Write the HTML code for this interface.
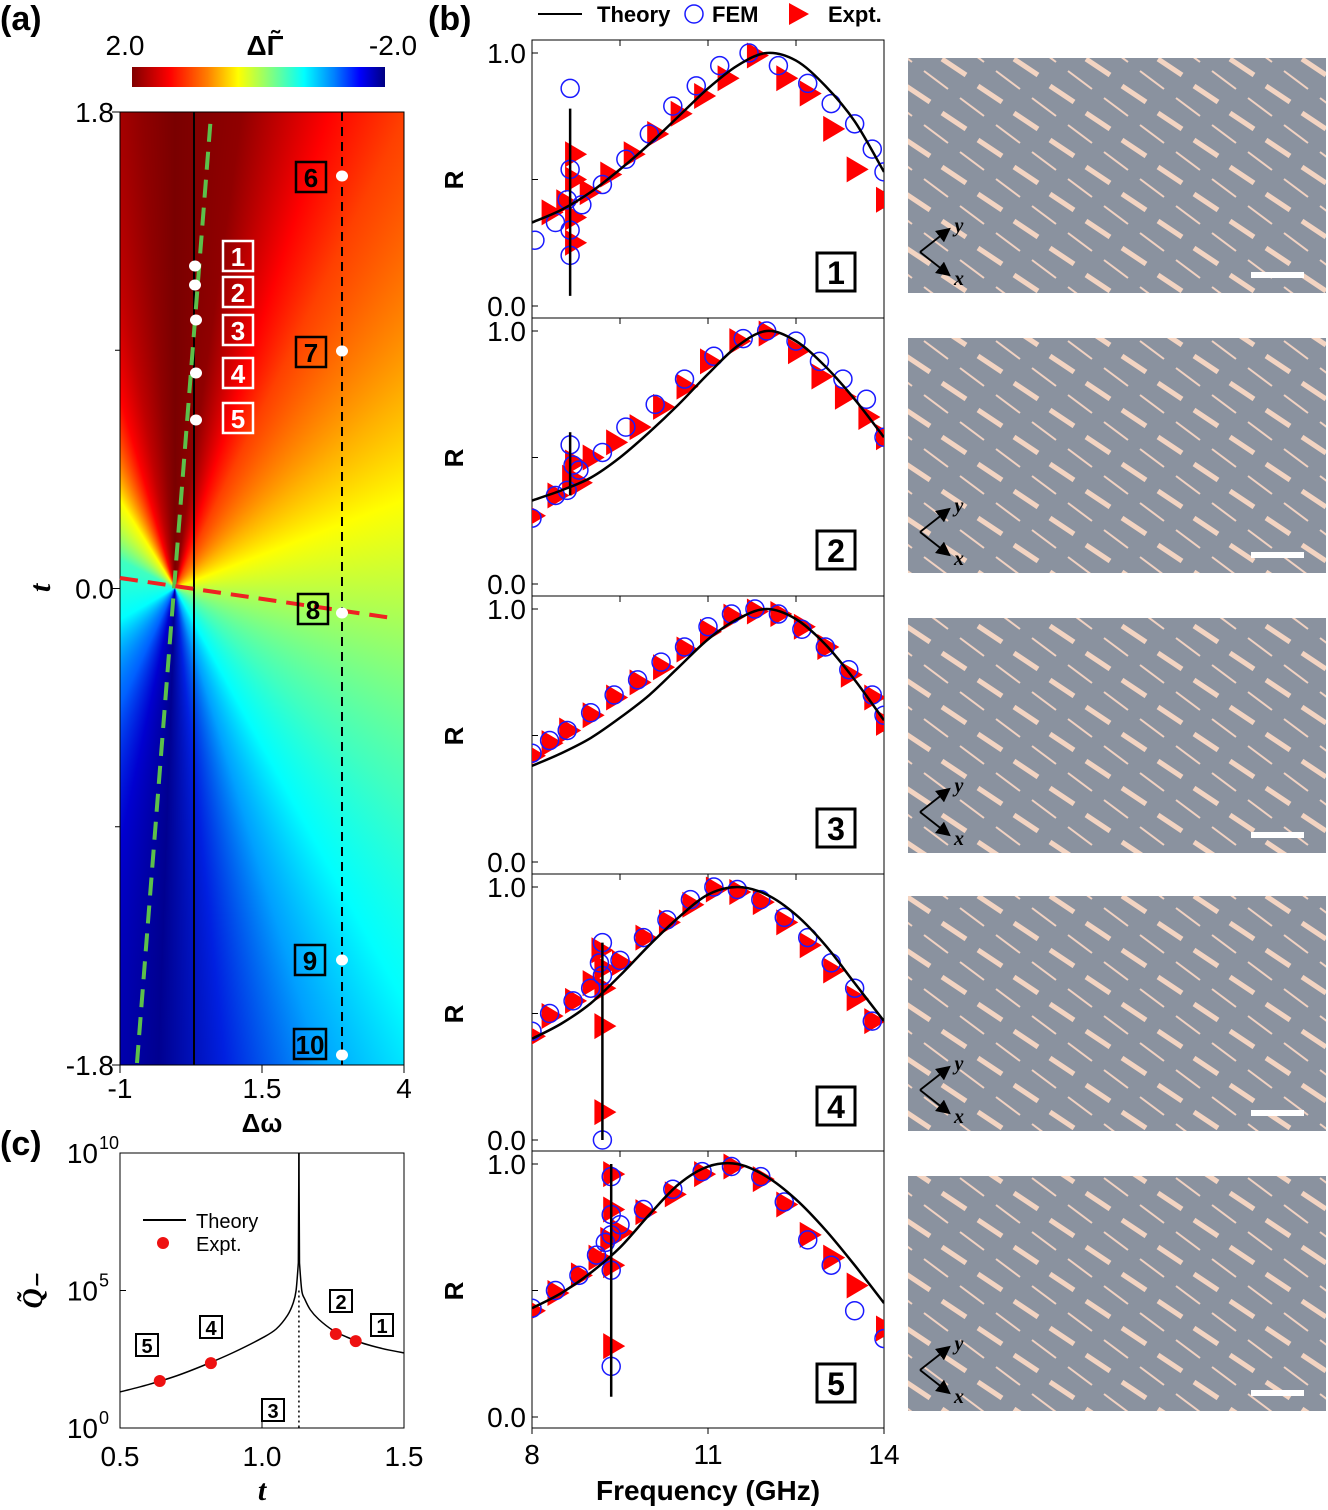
<!DOCTYPE html>
<html><head><meta charset="utf-8">
<style>
html,body{margin:0;padding:0;background:#fff;}
#wrap{position:relative;width:1328px;height:1510px;overflow:hidden;font-family:"Liberation Sans",sans-serif;}
#heat{position:absolute;left:120px;top:112px;width:284px;height:953px;
background:conic-gradient(from 0deg at 55px 476px,#7a0000 0deg,#900000 8deg,#ff0000 18deg,#ff4000 26deg,#ff7000 36deg,#ffb000 50deg,#ffff00 69deg,#c0ff40 90deg,#40ffc0 133deg,#00ffff 151deg,#00a0ff 163deg,#0020e0 174deg,#000090 182deg,#0000d0 192deg,#0060ff 205deg,#00ffff 240deg,#40ffc0 297deg,#ffff00 328deg,#ff0000 344deg,#c00000 350deg,#900000 356deg,#7a0000 360deg);}
#cbar{position:absolute;left:132px;top:67px;width:253px;height:20px;
background:linear-gradient(to right,#800000,#ff0000 15%,#ff8000 30%,#ffff00 42%,#80ff80 55%,#00ffff 68%,#0080ff 80%,#0000ff 90%,#000080);}
svg{position:absolute;left:0;top:0;}
</style></head><body>
<div id="wrap">
<div id="heat"></div>
<div id="cbar"></div>
<svg id="s" width="1328" height="1510">
<defs>
<pattern id="bars" width="72" height="54" patternUnits="userSpaceOnUse">
<line x1="6" y1="5" x2="30" y2="21" stroke="#f3d4c2" stroke-width="5"/>
<line x1="42" y1="32" x2="66" y2="48" stroke="#f3d4c2" stroke-width="5"/>
<line x1="-12" y1="17" x2="12" y2="35" stroke="#f1d2c2" stroke-width="2"/>
<line x1="60" y1="17" x2="84" y2="35" stroke="#f1d2c2" stroke-width="2"/>
<line x1="24" y1="44" x2="48" y2="62" stroke="#f1d2c2" stroke-width="2"/>
<line x1="24" y1="-10" x2="48" y2="8" stroke="#f1d2c2" stroke-width="2"/>
</pattern>
<marker id="ah" markerWidth="8" markerHeight="8" refX="6" refY="4" orient="auto"><path d="M0,0 L8,4 L0,8 z" fill="#000"/></marker>
</defs>
<g id="g"></g>
</svg>
</div>
<script>
// ---------- data ----------
const tickLabelsA_y=["1.8","0.0","-1.8"];
const tickLabelsA_x=["-1","1.5","4"];
const freqGrid=[8,8.5,9,9.5,10,10.5,11,11.5,12,12.5,13,13.5,14];
const theory1=[.33,.38,.45,.54,.64,.75,.86,.95,1.0,.97,.87,.73,.53];
const theory2=[.33,.37,.42,.5,.6,.71,.83,.94,1.0,.96,.86,.73,.58];
const theory3=[.38,.43,.49,.57,.66,.77,.88,.96,1.0,.96,.86,.72,.56];
const theory4=[.4,.46,.54,.65,.77,.88,.97,1.0,.97,.89,.77,.62,.47];
const theory5=[.43,.49,.57,.67,.8,.92,.99,1.0,.95,.86,.74,.6,.45];
const featF=[8.65,8.65,null,9.2,9.35];
const featLo=[.04,.35,null,0,.08];
const featHi=[.78,.6,null,.78,1.0];
const fem1x=[8.05,8.4,8.6,8.65,8.65,8.65,8.65,8.85,9.2,9.6,10.0,10.4,10.8,11.2,11.7,12.2,12.7,13.1,13.5,13.8,14.0];
const fem1y=[.26,.33,.42,.54,.86,.3,.2,.4,.48,.58,.68,.79,.87,.95,1.0,.95,.88,.8,.72,.62,.53];
const exp1x=[8.3,8.55,8.7,8.7,8.7,8.7,8.95,9.3,9.7,10.1,10.5,10.9,11.3,11.8,12.3,12.7,13.1,13.5,14.0];
const exp1y=[.37,.41,.6,.5,.35,.25,.45,.52,.6,.68,.76,.83,.9,.99,.9,.84,.7,.54,.42];
const fem2x=[8.0,8.4,8.6,8.65,8.7,8.8,9.2,9.6,10.1,10.6,11.1,11.6,12.0,12.5,12.9,13.3,13.7,14.0];
const fem2y=[.26,.35,.37,.55,.47,.45,.52,.62,.71,.81,.9,.97,1.0,.96,.88,.81,.73,.58];
const exp2x=[8.0,8.4,8.65,8.7,8.8,9.0,9.4,9.8,10.2,10.6,11.0,11.5,12.0,12.5,12.9,13.3,13.7,14.0];
const exp2y=[.27,.35,.42,.48,.4,.5,.56,.62,.7,.78,.88,.96,.99,.92,.82,.74,.66,.58];
const fem3x=[8.0,8.3,8.6,9.0,9.4,9.8,10.2,10.6,11.0,11.4,11.8,12.2,12.6,13.0,13.4,13.8,14.0];
const fem3y=[.43,.48,.52,.59,.66,.72,.79,.85,.93,.98,1.0,.98,.92,.85,.76,.66,.58];
const exp3x=[8.0,8.3,8.6,9.0,9.4,9.8,10.2,10.6,11.0,11.4,11.8,12.2,12.6,13.0,13.4,13.8,14.0];
const exp3y=[.42,.47,.52,.58,.65,.71,.77,.84,.91,.97,.99,.98,.93,.85,.74,.65,.55];
const fem4x=[8.0,8.3,8.7,9.0,9.15,9.2,9.2,9.2,9.5,9.9,10.3,10.7,11.1,11.5,11.9,12.3,12.7,13.1,13.5,13.8];
const fem4y=[.43,.5,.55,.6,.7,.78,.65,0,.71,.8,.87,.95,1.0,.99,.95,.88,.8,.7,.6,.47];
const exp4x=[8.0,8.3,8.7,9.0,9.15,9.2,9.2,9.2,9.2,9.5,9.9,10.3,10.7,11.1,11.5,11.9,12.3,12.7,13.1,13.5,13.8];
const exp4y=[.41,.49,.55,.62,.75,.68,.6,.45,.11,.7,.8,.86,.93,.99,.98,.94,.86,.77,.67,.56,.47];
const fem5x=[8.0,8.4,8.8,9.1,9.25,9.35,9.35,9.35,9.35,9.35,9.5,9.9,10.4,10.9,11.4,11.9,12.3,12.7,13.1,13.5,14.0];
const fem5y=[.43,.5,.56,.64,.69,.95,.8,.72,.58,.2,.76,.82,.9,.97,.99,.95,.85,.7,.6,.42,.31];
const exp5x=[8.0,8.4,8.8,9.1,9.3,9.35,9.35,9.35,9.35,9.5,9.9,10.4,10.9,11.4,11.9,12.3,12.7,13.1,13.5,14.0];
const exp5y=[.42,.49,.56,.63,.7,.96,.82,.6,.28,.73,.81,.88,.96,.99,.94,.84,.72,.63,.52,.35];
const yTickLabelsB=["1.0","0.0"];
const xTickLabelsB=["8","11","14"];
const qLeftT=[0.5,0.6,0.7,0.8,0.9,1.0,1.05,1.09,1.11,1.12,1.128];
const qLeftLog=[1.31,1.58,1.9,2.3,2.75,3.27,3.6,4.1,4.55,5.0,6.0];
const qRightT=[1.132,1.14,1.15,1.17,1.2,1.25,1.3,1.35,1.4,1.45,1.5];
const qRightLog=[6.0,5.0,4.7,4.3,3.95,3.55,3.3,3.1,2.95,2.83,2.73];
const dotT=[0.64,0.82,1.26,1.33];
const dotLog=[1.71,2.36,3.42,3.16];
const cTickX=["0.5","1.0","1.5"];

// ---------- helpers ----------
const NS="http://www.w3.org/2000/svg";
const G=document.getElementById('g');
function el(tag,attrs,parent){const e=document.createElementNS(NS,tag);for(const k in attrs)e.setAttribute(k,attrs[k]);(parent||G).appendChild(e);return e;}
function txt(x,y,s,size,anchor,extra){const t=el('text',Object.assign({x:x,y:y,'font-size':size,'text-anchor':anchor||'middle','font-family':'Liberation Sans, sans-serif'},extra||{}));t.textContent=s;return t;}
function spline(pts){let d='M'+pts[0][0]+','+pts[0][1];for(let i=0;i<pts.length-1;i++){const p0=pts[i-1]||pts[i],p1=pts[i],p2=pts[i+1],p3=pts[i+2]||p2;const c1=[p1[0]+(p2[0]-p0[0])/6,p1[1]+(p2[1]-p0[1])/6],c2=[p2[0]-(p3[0]-p1[0])/6,p2[1]-(p3[1]-p1[1])/6];d+=' C'+c1[0]+','+c1[1]+' '+c2[0]+','+c2[1]+' '+p2[0]+','+p2[1];}return d;}

// ---------- panel labels ----------
let t;
t=txt(0,30,'(a)',34,'start',{'font-weight':'bold'});
t=txt(428,30,'(b)',34,'start',{'font-weight':'bold'});
t=txt(0,1155,'(c)',34,'start',{'font-weight':'bold'});

// ---------- panel a ----------
const AX0=120,AX1=404,AY0=112,AY1=1065;
const ax=v=>AX0+(v+1)/5*(AX1-AX0);
const ay=v=>AY0+(1.8-v)/3.6*(AY1-AY0);
t=txt(125,55,'2.0',28);
t=txt(393,55,'-2.0',28);
t=txt(265,55,'ΔΓ̃',28,'middle',{'font-weight':'bold'});
let r=el('rect',{x:AX0,y:AY0,width:AX1-AX0,height:AY1-AY0,fill:'none',stroke:'#000','stroke-width':1});

[1.8,0,-1.8].forEach((v,i)=>{el('line',{x1:AX0-8,y1:ay(v),x2:AX0,y2:ay(v),stroke:'#000'});
 const l=txt(AX0-6,ay(v)+10,tickLabelsA_y[i],28,'end');});
[0.9,-0.9].forEach(v=>el('line',{x1:AX0-5,y1:ay(v),x2:AX0,y2:ay(v),stroke:'#000'}));
[-1,1.5,4].forEach((v,i)=>{el('line',{x1:ax(v),y1:AY1,x2:ax(v),y2:AY1+8,stroke:'#000'});
 const l=txt(ax(v),AY1+33,tickLabelsA_x[i],28);});
t=txt(262,1132,'Δω',26,'middle',{'font-weight':'bold'});
t=txt(0,0,'t',30,'middle',{'font-weight':'bold','font-style':'italic','font-family':'Liberation Serif, serif',transform:'translate(50,588) rotate(-90)'});
let ln=el('line',{x1:194,y1:AY0,x2:194,y2:AY1,stroke:'#000','stroke-width':2});
ln=el('line',{x1:342,y1:AY0,x2:342,y2:AY1,stroke:'#000','stroke-width':2,'stroke-dasharray':'9,6'});
ln=el('line',{x1:137,y1:1063,x2:211,y2:115,stroke:'#5cc04a','stroke-width':4,'stroke-dasharray':'18,10'});
ln=el('line',{x1:120,y1:578,x2:392,y2:618,stroke:'#ee2222','stroke-width':4,'stroke-dasharray':'18,10'});
[[195,266],[195,285],[196,320],[196,373],[196,420],[342,176],[342,351],[342,613],[342,960],[342,1055]].forEach(p=>{const c=el('ellipse',{cx:p[0],cy:p[1],rx:6,ry:5.5,fill:'#fff'});});
function box(x,y,n,col,w){const b=el('rect',{x:x-15,y:y-15,width:w||30,height:30,fill:'none',stroke:col,'stroke-width':2.5});
 const l=txt(x-15+(w||30)/2,y+10,n,26,'middle',{'font-weight':'bold',fill:col});}
[[238,256,'1'],[238,292,'2'],[238,330,'3'],[238,373,'4'],[238,418,'5']].forEach(a=>box(a[0],a[1],a[2],'#fff'));
[[311,177,'6'],[311,352,'7'],[313,609,'8'],[310,960,'9']].forEach(a=>box(a[0],a[1],a[2],'#000'));
box(309,1044,'10','#000',32);

// ---------- panel b ----------
const BX0=532,BX1=884,tops=[40,318,596,874,1151];
const bx=f=>BX0+(f-8)/6*(BX1-BX0);
const theories=[theory1,theory2,theory3,theory4,theory5];
const femX=[fem1x,fem2x,fem3x,fem4x,fem5x],femY=[fem1y,fem2y,fem3y,fem4y,fem5y];
const expX=[exp1x,exp2x,exp3x,exp4x,exp5x],expY=[exp1y,exp2y,exp3y,exp4y,exp5y];
ln=el('line',{x1:538,y1:14,x2:582,y2:14,stroke:'#000','stroke-width':2});
t=txt(597,22,'Theory',22,'start',{'font-weight':'bold'});
let c=el('circle',{cx:694,cy:14,r:9,fill:'none',stroke:'#1a1aff','stroke-width':1.5});
t=txt(712,22,'FEM',22,'start',{'font-weight':'bold'});
let p=el('path',{d:'M789,3 L809,14 L789,25 z',fill:'#f00'});
t=txt(828,22,'Expt.',22,'start',{'font-weight':'bold'});

tops.forEach((top,k)=>{
 const by=v=>top+13+(1-v)*253;
 const fr=el('rect',{x:BX0,y:top,width:BX1-BX0,height:(k==4?1428:tops[k+1])-top,fill:'none',stroke:'#000','stroke-width':1});
 
 [1,0.5,0].forEach(v=>el('line',{x1:BX0,y1:by(v),x2:BX0+6,y2:by(v),stroke:'#000'}));
 [9.5,11,12.5].forEach(f=>{el('line',{x1:bx(f),y1:top,x2:bx(f),y2:top+6,stroke:'#000'});});
 [1,0].forEach((v,i)=>{const l=txt(BX0-6,by(v)+10,yTickLabelsB[i],28,'end');});
 const R=txt(0,0,'R',26,'middle',{'font-weight':'bold',transform:'translate(463,'+(top+140)+') rotate(-90)'});
 const cg=el('g',{'clip-path':'url(#clipb'+k+')'});
 const cp=el('clipPath',{id:'clipb'+k});el('rect',{x:BX0,y:top,width:BX1-BX0,height:280},cp);
 expX[k].forEach((f,i)=>{const x=bx(f),y=by(expY[k][i]);const m=el('path',{d:`M${x-8},${y-13} L${x+14},${y} L${x-8},${y+13} z`,fill:'#ff0000'},cg);
  });
 femX[k].forEach((f,i)=>{const m=el('circle',{cx:bx(f),cy:by(femY[k][i]),r:9,fill:'none',stroke:'#1a1aff','stroke-width':1.5},cg);
  });
 const pts=freqGrid.map((f,i)=>[bx(f),by(theories[k][i])]);
 const th=el('path',{d:spline(pts),fill:'none',stroke:'#000','stroke-width':2.5},cg);
 if(featF[k]!==null){const v=el('line',{x1:bx(featF[k]),y1:by(featLo[k]),x2:bx(featF[k]),y2:by(featHi[k]),stroke:'#000','stroke-width':2.5});
  }
 const bb=el('rect',{x:817,y:top+213,width:38,height:38,fill:'#fff',stroke:'#000','stroke-width':3});
 const nl=txt(836,top+244,String(k+1),32,'middle',{'font-weight':'bold'});
});
[8,11,14].forEach((f,i)=>{el('line',{x1:bx(f),y1:1428,x2:bx(f),y2:1434,stroke:'#000'});
 const l=txt(bx(f),1464,xTickLabelsB[i],28);});
t=txt(708,1500,'Frequency (GHz)',28,'middle',{'font-weight':'bold'});

// ---------- photos ----------
[58,338,618,896,1176].forEach((y,i)=>{
 const ph=el('rect',{x:908,y:y,width:418,height:235,fill:'#8a929f'});
 el('rect',{x:908,y:y,width:418,height:235,fill:'url(#bars)'});
 el('line',{x1:920,y1:y+194,x2:948,y2:y+172,stroke:'#000','stroke-width':1.8,'marker-end':'url(#ah)'});
 el('line',{x1:920,y1:y+194,x2:948,y2:y+216,stroke:'#000','stroke-width':1.8,'marker-end':'url(#ah)'});
 const yl=txt(959,y+174,'y',20,'middle',{'font-weight':'bold','font-style':'italic','font-family':'Liberation Serif, serif'});
 const xl=txt(959,y+227,'x',20,'middle',{'font-weight':'bold','font-style':'italic','font-family':'Liberation Serif, serif'});
 const sb=el('rect',{x:1251,y:y+214,width:53,height:6,fill:'#fff'});
});

// ---------- panel c ----------
const CX0=120,CX1=404,CY0=1153,CY1=1428;
const cx=v=>CX0+(v-0.5)*(CX1-CX0);
const cy=v=>CY1-v/10*(CY1-CY0);
r=el('rect',{x:CX0,y:CY0,width:CX1-CX0,height:CY1-CY0,fill:'none',stroke:'#000'});
[[0,'0'],[5,'5'],[10,'10']].forEach(a=>{el('line',{x1:CX0,y1:cy(a[0]),x2:CX0+6,y2:cy(a[0]),stroke:'#000'});
 const l=txt(CX0-22,cy(a[0])+10,'10',28,'end');
 const e=txt(CX0-21,cy(a[0])-4,a[1],18,'start');});
[0.5,1.0,1.5].forEach((v,i)=>{el('line',{x1:cx(v),y1:CY1,x2:cx(v),y2:CY1-6,stroke:'#000'});
 const l=txt(cx(v),1466,cTickX[i],28);});
t=txt(262,1500,'t',30,'middle',{'font-weight':'bold','font-style':'italic','font-family':'Liberation Serif, serif'});
t=txt(0,0,'Q̃₋',28,'middle',{'font-weight':'bold','font-style':'italic','font-family':'Liberation Serif, serif',transform:'translate(42,1291) rotate(-90)'});
let cv=el('path',{d:spline(qLeftT.map((v,i)=>[cx(v),cy(qLeftLog[i])]))+' L'+cx(1.13)+','+CY0,fill:'none',stroke:'#000','stroke-width':1.5});
cv=el('path',{d:'M'+cx(1.13)+','+CY0+' L'+spline(qRightT.map((v,i)=>[cx(v),cy(qRightLog[i])])).slice(1),fill:'none',stroke:'#000','stroke-width':1.5});
ln=el('line',{x1:cx(1.13),y1:cy(5),x2:cx(1.13),y2:CY1,stroke:'#000','stroke-width':1.5,'stroke-dasharray':'2,3'});
dotT.forEach((v,i)=>{const d=el('circle',{cx:cx(v),cy:cy(dotLog[i]),r:6,fill:'#ee1111'});});
ln=el('line',{x1:143,y1:1220,x2:186,y2:1220,stroke:'#000','stroke-width':2});
t=txt(196,1228,'Theory',20,'start');
c=el('circle',{cx:163,cy:1243,r:6,fill:'#ee1111'});
t=txt(196,1251,'Expt.',20,'start');
function sbox(x,y,n){const b=el('rect',{x:x-11,y:y-11,width:22,height:22,fill:'#fff',stroke:'#000','stroke-width':2});
 const l=txt(x,y+8,n,20,'middle',{'font-weight':'bold'});}
sbox(147,1345,'5');sbox(211,1327,'4');sbox(273,1410,'3');sbox(341,1301,'2');sbox(382,1325,'1');
</script>
</body></html>
